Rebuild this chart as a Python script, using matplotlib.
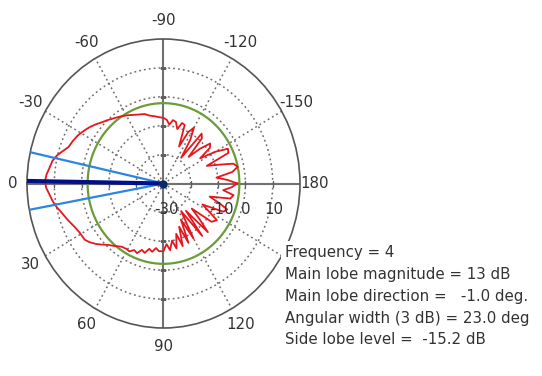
import numpy as np
import matplotlib
matplotlib.use("Agg")
import matplotlib.pyplot as plt
from matplotlib.patches import Rectangle

# ---- data ----
theta_deg = [-180, -177, -174, -171, -168, -165, -162, -159, -156, -153, -150, -147, -144, -141,
             -138, -135, -132, -129, -126, -123, -120, -117, -114, -111, -108, -105, -102, -99,
             -96, -93, -90, -86, -82, -78, -74, -68, -61, -56, -52, -47, -43, -40, -36, -32,
             -28, -24, -20, -17, -14, -11, -7, -4, -1, 2, 5, 8, 11, 15, 20, 25, 29, 34, 37,
             40, 43, 46, 50, 55, 59, 62, 65, 68, 71, 74, 77, 80, 83, 86, 90, 93, 96, 99, 102,
             105, 108, 111, 114, 117, 120, 124, 128, 131, 134, 137, 140, 143, 147, 150, 153,
             156, 159, 162, 165, 168, 171, 174, 177, 180]
gain_db = [-3.0, -6.5, -10.5, -4.5, -2.2, -3.5, -9.0, -13.0, -4.0, -3.5, -8.0, -14.0, -9.0, -8.0,
           -12.0, -17.0, -9.0, -7.8, -19.0, -12.0, -7.7, -10.0, -16.0, -8.3, -8.0, -10.5, -8.2, -7.8,
           -9.5, -7.9, -7.3, -7.0, -6.5, -6.0, -5.0, -4.3, -3.0, -2.0, -1.2, 0.0, 1.0, 2.0, 3.3, 4.4,
           5.5, 6.3, 7.0, 8.5, 10.2, 11.4, 12.2, 13.0, 13.4, 13.0, 12.0, 11.2, 10.3, 8.7, 7.2, 5.8, 5.1, 4.8, 3.8,
           2.5, 1.0, -0.5, -1.8, -3.3, -3.6, -3.4, -4.6, -4.0, -5.7, -5.0, -6.8, -6.0, -7.5, -6.5, -6.6, -9.0, -6.8, -10.0, -7.0,
           -12.0, -7.2, -14.0, -7.5, -16.0, -8.0, -18.5, -7.0, -17.5, -6.6, -12.0, -16.5, -8.0, -6.7, -11.0, -14.0,
           -6.0, -5.0, -9.0, -12.5, -5.0, -4.0, -8.0, -5.0, -3.0]

main_lobe_dir = -1.0
angular_width = 23.0
main_lobe_mag = 13.0
side_lobe_rel = -15.2
frequency = 4

r_min, r_max = -30, 20
ring_values = [-20, -10, 0, 10]
radial_label_values = [-30, -10, 0, 10]
angle_ticks = [0, 30, 60, 90, 120, 180, -30, -60, -90, -120, -150]
solid_spokes = [0, 90, 180, -90]
dotted_spokes = [30, 60, 120, 150, -30, -60, -120, -150]

info_lines = [
    f"Frequency = {frequency}",
    f"Main lobe magnitude = {main_lobe_mag:.0f} dB",
    f"Main lobe direction =   {main_lobe_dir:.1f} deg.",
    f"Angular width (3 dB) = {angular_width:.1f} deg",
    f"Side lobe level =  {side_lobe_rel:.1f} dB",
]

TXT = "#333333"
FS = 10.8
plt.rcParams["font.family"] = ["DejaVu Sans"]

W, H = 542, 376
fig = plt.figure(figsize=(W / 100, H / 100), dpi=100)
fig.patch.set_facecolor("white")
ax = fig.add_axes([27 / W, (H - 328) / H, 273 / W, 289 / H], projection="polar")
ax.set_theta_zero_location("W")
ax.set_theta_direction(1)
ax.set_ylim(r_min, r_max)
ax.set_aspect("auto")
ax.grid(False)
ax.set_xticks([])
ax.set_yticks([])
ax.spines["polar"].set_color("#555555")
ax.spines["polar"].set_linewidth(1.2)

t = np.linspace(0, 2 * np.pi, 721)
for v in ring_values:
    ax.plot(t, np.full_like(t, v), ls=(0, (1.2, 2.0)), color="#6e6e6e", lw=1.1, zorder=1)
for a in dotted_spokes:
    ax.plot([np.deg2rad(a)] * 2, [r_min, r_max], ls=(0, (1.2, 2.0)), color="#6e6e6e", lw=1.1, zorder=1)
for a in solid_spokes:
    ax.plot([np.deg2rad(a)] * 2, [r_min, r_max], color="#707070", lw=1.5, zorder=1)

# small ticks on the axes lines
for a in [0, 180]:
    ax.plot([np.deg2rad(a)] * len(ring_values), ring_values, ls="none", marker="|",
            ms=4, mew=1.0, color="#606060", zorder=2)
for a in [90, -90]:
    ax.plot([np.deg2rad(a)] * len(ring_values), ring_values, ls="none", marker="_",
            ms=4, mew=1.0, color="#606060", zorder=2)

# side lobe level circle
ax.plot(t, np.full_like(t, main_lobe_mag + side_lobe_rel), color="#6b9c3a", lw=1.6, zorder=3)

# pattern
ax.plot(np.deg2rad(theta_deg), gain_db, color="#e8161c", lw=1.3, zorder=4)

# beam lines
for a in [main_lobe_dir - angular_width / 2, main_lobe_dir + angular_width / 2]:
    ax.plot([np.deg2rad(a)] * 2, [r_min, r_max], color="#2a86e0", lw=1.6, zorder=5)
ax.plot([np.deg2rad(main_lobe_dir)] * 2, [r_min, r_max], color="#00108a", lw=3, zorder=6)
ax.plot([0], [r_min], marker="o", ms=5, color="#0a2a6a", zorder=7)

# angle labels
for a in angle_ticks:
    rl = r_max + 0.125 * (r_max - r_min)
    if a in (0, 180):
        rl = r_max + 0.105 * (r_max - r_min)
    ax.text(np.deg2rad(a), rl, str(a), ha="center", va="center", fontsize=FS,
            color=TXT, clip_on=False)

# radial labels
offs = {-30: 2, -10: 2.5, 0: 0, 10: 0.5}
for v in radial_label_values:
    ax.annotate(str(v), xy=(np.pi, v), xytext=(offs[v], -19), textcoords="offset points",
                ha="center", va="center", fontsize=FS, color=TXT, zorder=8)

# info box
fig.patches.append(Rectangle((281 / W, 0), 1, (H - 241) / H, transform=fig.transFigure,
                             facecolor="white", edgecolor="none", zorder=10))
ys = [252, 274, 296, 318, 340]
for y, s in zip(ys, info_lines):
    fig.text(285 / W, 1 - y / H, s, ha="left", va="center", fontsize=FS, color=TXT, zorder=11)

fig.savefig("out.png", dpi=100, facecolor="white")
